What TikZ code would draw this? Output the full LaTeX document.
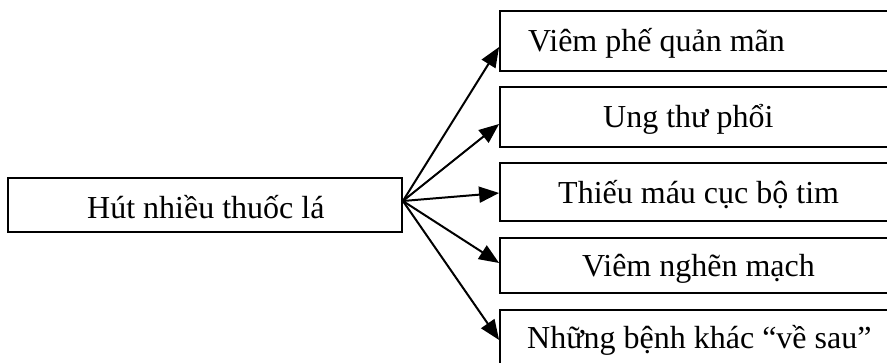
\documentclass[tikz,border=0pt]{standalone}
\usepackage{fontspec}
\setmainfont{Liberation Serif}
\usetikzlibrary{arrows.meta,calc}
\begin{document}
\begin{tikzpicture}[x=1pt,y=-1pt,
  boxnode/.style={draw,line width=1.8pt,rectangle,inner sep=0pt},
  lbl/.style={anchor=base west,inner sep=0pt,font=\fontsize{32}{38}\selectfont},
  arr/.style={line width=2pt,-{Triangle[length=20pt,width=16pt]}}]
\useasboundingbox (0,0) rectangle (887,363);
\clip (0,0) rectangle (887,363);
% boxes
\node[boxnode, minimum width=394pt, minimum height=54pt] (src) at (205,205) {};
\node[boxnode, minimum width=420pt, minimum height=60pt] (b1) at (710,41) {};
\node[boxnode, minimum width=420pt, minimum height=60pt] (b2) at (710,117) {};
\node[boxnode, minimum width=420pt, minimum height=58pt] (b3) at (710,192) {};
\node[boxnode, minimum width=420pt, minimum height=55pt] (b4) at (710,265.5) {};
\node[boxnode, minimum width=420pt, minimum height=90pt] (b5) at (710,355) {};
% texts
\node[lbl] (t0) at (87,219) {Hút nhiều thuốc lá};
\node[lbl] (t1) at (528,52) {Viêm phế quản mãn};
\node[lbl] (t2) at (603,128) {Ung thư phổi};
\node[lbl] (t3) at (558,204) {Thiếu máu cục bộ tim};
\node[lbl] (t4) at (582,277) {Viêm nghẽn mạch};
\node[lbl] (t5) at (527,349) {Những bệnh khác “về sau”};
% connectors
\coordinate (o) at ($(src.east)+(0,-4)$);
\draw[arr] (o) -- ($(b1.west)+(0,6)$);
\draw[arr] (o) -- ($(b2.west)+(0,7)$);
\draw[arr] (o) -- ($(b3.west)+(0,1)$);
\draw[arr] (o) -- ($(b4.west)+(0,-2.5)$);
\draw[arr] (o) -- ($(b5.west)+(0,-15)$);
\end{tikzpicture}
\end{document}
